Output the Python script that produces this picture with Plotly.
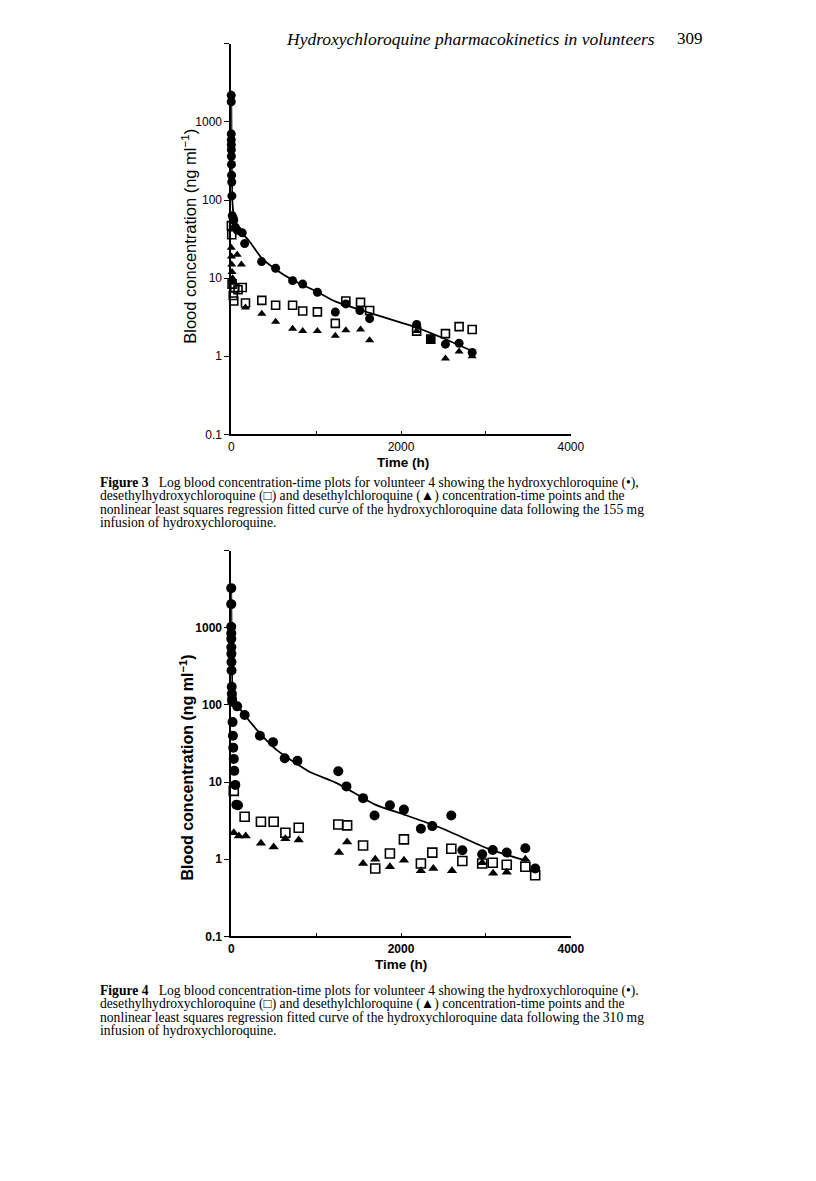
import plotly.graph_objects as go

# page is 816x1181; the html body keeps its 8px margin, so the figure is 16px smaller
PAGE_W, PAGE_H = 816, 1181
OFF = 8
W, H = PAGE_W - 2 * OFF, PAGE_H - 2 * OFF

# Figure 3 (155 mg infusion) - time (h), concentration (ng/ml)
hcq3_t = [0.1, 0.25, 0.5, 0.75, 1, 1.5, 2, 3, 4, 6, 8, 12, 24, 30, 48, 72, 130, 158,
          358, 523, 723, 842, 1015, 1226, 1350, 1515, 1630, 2184, 2350, 2523, 2684, 2838]
hcq3_c = [2190, 1810, 700, 590, 510, 440, 363, 286, 208, 170, 113, 63, 58, 55, 45, 41, 38, 27.7,
          16.3, 13.4, 9.3, 8.4, 6.6, 3.68, 4.68, 3.86, 3.03, 2.56, 1.66, 1.43, 1.47, 1.12]
dhcq3_t = [2, 6, 10, 24, 30, 42, 80, 130, 168, 360, 523, 723, 842, 1015, 1226, 1350,
           1523, 1630, 2184, 2350, 2523, 2684, 2838]
dhcq3_c = [47, 36, 8.4, 6.0, 5.1, 7.5, 7.1, 7.6, 4.8, 5.2, 4.5, 4.5, 3.8, 3.7, 2.64, 5.1,
           4.9, 3.86, 2.1, 1.66, 1.95, 2.4, 2.2]
dcq3_t = [1, 3, 6, 10, 16, 24, 70, 120, 168, 360, 523, 723, 842, 1015, 1226, 1350,
          1523, 1630, 2184, 2350, 2523, 2684, 2838]
dcq3_c = [24.5, 19, 15, 12, 10, 9, 20, 15, 4.2, 3.5, 2.77, 2.26, 2.1, 2.1, 1.83, 2.15,
          2.2, 1.61, 2.1, 1.66, 0.94, 1.15, 1.0]
fit3_t = [0, 5, 15, 40, 100, 200, 360, 500, 720, 1000, 1230, 1630, 2000, 2200, 2500, 2840]
fit3_c = [2500, 400, 90, 55, 40, 31, 18, 13.5, 9.5, 6.8, 5.0, 3.6, 2.7, 2.3, 1.7, 1.16]

# Figure 4 (310 mg infusion)
hcq4_t = [0.1, 0.25, 0.5, 0.75, 1, 1.5, 2, 3, 4, 6, 8, 10, 12, 16, 20, 24, 30, 36, 48,
          60, 70, 80, 158, 338, 492, 630, 780, 1261, 1357, 1553, 1688, 1869, 2034,
          2234, 2368, 2592, 2722, 2956, 3080, 3245, 3464, 3580]
hcq4_c = [3270, 2030, 1030, 850, 720, 560, 460, 360, 280, 172, 140, 120, 110, 60, 40, 28, 20, 14, 9.2,
          5.1, 96, 5.0, 74, 40, 33, 20.4, 18.9, 13.8, 8.8, 6.2, 3.7, 5.0, 4.4,
          2.49, 2.69, 3.7, 1.31, 1.16, 1.32, 1.22, 1.39, 0.76]
dhcq4_t = [30, 158, 350, 500, 638, 795, 1261, 1365, 1553, 1696, 1869, 2034, 2234, 2368,
           2592, 2722, 2956, 3080, 3245, 3464, 3580]
dhcq4_c = [7.7, 3.55, 3.06, 3.06, 2.21, 2.56, 2.82, 2.75, 1.51, 0.76, 1.19, 1.81, 0.88, 1.22,
           1.37, 0.95, 0.88, 0.9, 0.85, 0.8, 0.62]
dcq4_t = [30, 90, 170, 350, 500, 638, 795, 1270, 1365, 1553, 1696, 1869, 2034, 2234,
          2380, 2600, 2956, 3085, 3245, 3464]
dcq4_c = [2.2, 2.0, 2.0, 1.61, 1.44, 1.85, 1.78, 1.22, 1.67, 0.88, 1.0, 0.8, 0.97, 0.71,
          0.76, 0.71, 0.9, 0.66, 0.68, 1.0]
fit4_t = [0, 5, 15, 50, 158, 346, 538, 780, 926, 1261, 1696, 2034, 2465, 3041, 3480]
fit4_c = [3200, 700, 170, 110, 74, 42, 26, 17, 13.5, 9.5, 5.1, 3.8, 2.56, 1.35, 0.95]

x_ticks = [0, 2000, 4000]
x_labels = ["0", "2000", "4000"]
x_minor = [1000, 3000]
y_ticks = [0.1, 1, 10, 100, 1000]
y_labels = ["0.1", "1", "10", "100", "1000"]
y_minor = [10000]

SANS = "Liberation Sans, Arial, sans-serif"
SERIF = "Liberation Serif, Times New Roman, serif"


def px_x(p):
    # page pixel -> paper fraction
    return (p - OFF) / W


def px_y(p):
    return 1 - (p - OFF) / H


fig = go.Figure()


def add_panel(fig, xa, ya, sq, tri, circ, fit, msize):
    fig.add_trace(go.Scatter(x=sq[0], y=sq[1], mode="markers", xaxis=xa, yaxis=ya,
                             marker=dict(symbol="square-open", size=msize - 1, color="black",
                                         line=dict(width=1.6)), cliponaxis=False))
    fig.add_trace(go.Scatter(x=tri[0], y=tri[1], mode="markers", xaxis=xa, yaxis=ya,
                             marker=dict(symbol="triangle-up", size=msize - 1, color="black"),
                             cliponaxis=False))
    fig.add_trace(go.Scatter(x=circ[0], y=circ[1], mode="markers", xaxis=xa, yaxis=ya,
                             marker=dict(symbol="circle", size=msize, color="black"),
                             cliponaxis=False))
    fig.add_trace(go.Scatter(x=fit[0], y=fit[1], mode="lines", xaxis=xa, yaxis=ya,
                             line=dict(color="black", width=1.8, shape="spline", smoothing=0.6),
                             cliponaxis=False))


add_panel(fig, "x", "y", (dhcq3_t, dhcq3_c), (dcq3_t, dcq3_c), (hcq3_t, hcq3_c), (fit3_t, fit3_c), 9)
add_panel(fig, "x2", "y2", (dhcq4_t, dhcq4_c), (dcq4_t, dcq4_c), (hcq4_t, hcq4_c), (fit4_t, fit4_c), 10)


def xaxis(anchor, bold):
    return dict(domain=[px_x(233), px_x(580)], range=[0, 4000], anchor=anchor,
                tickvals=x_ticks, ticktext=x_labels, ticks="inside", ticklen=4,
                tickwidth=1.2, tickcolor="black", showline=True, linecolor="black",
                linewidth=1.5, showgrid=False, zeroline=False,
                minor=dict(tickvals=x_minor, ticks="inside", ticklen=4, tickwidth=1.2,
                           tickcolor="black", showgrid=False),
                tickfont=dict(family=SANS, size=12, color="black",
                              weight="bold" if bold else "normal"))


def yaxis(top, bottom, anchor, bold):
    return dict(domain=[px_y(bottom), px_y(top)], type="log", range=[-1, 4], anchor=anchor,
                tickvals=y_ticks, ticktext=y_labels, ticks="outside", ticklen=5,
                tickwidth=1.2, tickcolor="black", showline=True, linecolor="black",
                linewidth=1.6, showgrid=False, zeroline=False,
                minor=dict(tickvals=y_minor, ticks="outside", ticklen=5, tickwidth=1.2,
                           tickcolor="black", showgrid=False),
                tickfont=dict(family=SANS, size=12, color="black",
                              weight="bold" if bold else "normal"))


fig.update_layout(
    width=W, height=H, margin=dict(l=0, r=0, t=0, b=0),
    paper_bgcolor="white", plot_bgcolor="white", showlegend=False,
    xaxis=xaxis("y", False),
    yaxis=yaxis(44, 437, "x", False),
    xaxis2=xaxis("y2", True),
    yaxis2=yaxis(554, 942, "x2", True),
)


def note(text, x, y, size=13.6, family=SERIF, xanchor="left", angle=0):
    fig.add_annotation(text=text, x=px_x(x), y=px_y(y), xref="paper", yref="paper",
                       xanchor=xanchor, yanchor="middle", showarrow=False, textangle=angle,
                       font=dict(family=family, size=size, color="black"))


# running head
note("<i>Hydroxychloroquine pharmacokinetics in volunteers</i>", 287, 39, size=17.5)
note("309", 686, 39, size=17)

# axis titles
note("Blood concentration (ng ml<sup>−1</sup>)", 190, 238, size=16.5, family=SANS,
     xanchor="center", angle=-90)
note("<b>Time (h)</b>", 408, 465, size=13.5, family=SANS, xanchor="center")
note("<b>Blood concentration (ng ml<sup>−1</sup>)</b>", 188, 772, size=16, family=SANS,
     xanchor="center", angle=-90)
note("<b>Time (h)</b>", 406, 970, size=13.5, family=SANS, xanchor="center")

cap3 = [
    "<b>Figure 3</b>   Log blood concentration-time plots for volunteer 4 showing the hydroxychloroquine (•),",
    "desethylhydroxychloroquine (□) and desethylchloroquine (▲) concentration-time points and the",
    "nonlinear least squares regression fitted curve of the hydroxychloroquine data following the 155 mg",
    "infusion of hydroxychloroquine.",
]
cap4 = [
    "<b>Figure 4</b>   Log blood concentration-time plots for volunteer 4 showing the hydroxychloroquine (•).",
    "desethylhydroxychloroquine (□) and desethylchloroquine (▲) concentration-time points and the",
    "nonlinear least squares regression fitted curve of the hydroxychloroquine data following the 310 mg",
    "infusion of hydroxychloroquine.",
]
for i, line in enumerate(cap3):
    note(line, 97, 485.5 + 13.3 * i)
for i, line in enumerate(cap4):
    note(line, 97, 997 + 13.3 * i)

fig.write_html("out.html")
